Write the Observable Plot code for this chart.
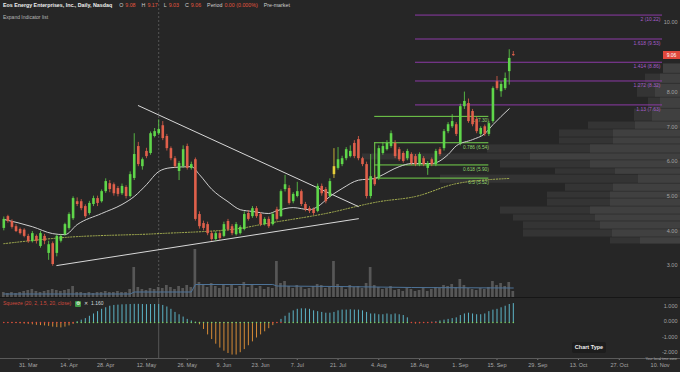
<!DOCTYPE html>
<html>
<head>
<meta charset="utf-8">
<script src="https://cdn.jsdelivr.net/npm/d3@7"></script>
<script src="https://cdn.jsdelivr.net/npm/@observablehq/plot@0.6"></script>
<style>
html,body{margin:0;padding:0;background:#262626;}
#wrap{position:relative;width:680px;height:372px;overflow:hidden;background:#262626;font-family:"Liberation Sans",Arial,sans-serif;}
.layer{position:absolute;left:0;}
.layer svg{display:block;}
#hdr{position:absolute;left:3px;top:2px;font-size:5.3px;white-space:nowrap;color:#d8d8d8;line-height:7px;}
#hdr b{color:#f0f0f0;margin-right:7px;}
#hdr .k{color:#cfcfcf;margin-right:2px;}
#hdr .v{color:#e0553f;margin-right:6px;}
#expand{position:absolute;left:3px;top:14px;font-size:5px;color:#b8b8b8;}
#sep{position:absolute;left:0;top:297px;width:680px;height:1px;background:#161616;}
#xline{position:absolute;left:0;top:358px;width:680px;height:1px;background:#5a5a5a;}
#sqz{position:absolute;left:3px;top:300px;font-size:5px;white-space:nowrap;line-height:7px;}
#sqz .t{color:#cf4a3e;}
#sqz .g{display:inline-block;width:6px;height:6px;background:#3f9b45;border-radius:1px;color:#fff;font-size:4.5px;text-align:center;line-height:6px;margin-left:4px;vertical-align:middle;}
#sqz .x{color:#ddd;margin-left:3px;}
#sqz .n{color:#cfd8dc;margin-left:3px;}
#pbox{position:absolute;left:663px;width:17px;height:8px;background:#e0483c;color:#fff;font-size:5px;line-height:8px;text-align:center;}
#ctype{position:absolute;left:572px;top:342px;width:34px;height:11px;background:#1d1d1d;color:#eee;font-size:5.5px;font-weight:bold;line-height:11px;text-align:center;border-radius:2px;}
#tz{position:absolute;right:3px;top:356.5px;font-size:3.5px;line-height:4px;color:#a8a8a8;}
</style>
</head>
<body>
<div id="wrap">
  <div id="profile" class="layer" style="top:0"></div>
  <div id="vol" class="layer" style="top:0"></div>
  <div id="main" class="layer" style="top:0"></div>
  <div id="sep"></div>
  <div id="osc" class="layer" style="top:298px"></div>
  <div id="xline"></div>
  <div id="hdr"></div>
  <div id="expand">Expand Indicator list</div>
  <div id="sqz"><span class="t">Squeeze (20, 2, 1.5, 20, close)</span><span class="g">&#9881;</span><span class="x">&#10005;</span><span class="n" id="sqzv"></span></div>
  <div id="pbox"></div>
  <div id="ctype">Chart Type</div>
  <div id="tz">Your local time zone</div>
</div>
<script>
// ---------------- DATA ----------------
const title = "Eos Energy Enterprises, Inc., Daily, Nasdaq";
const startDate = "2025-03-21";
const holidays = ["2025-04-18","2025-05-26","2025-06-19","2025-07-04","2025-09-01"];
const tickDates = ["2025-03-31","2025-04-14","2025-04-28","2025-05-12","2025-05-26","2025-06-09","2025-06-23","2025-07-07","2025-07-21","2025-08-04","2025-08-18","2025-09-01","2025-09-15","2025-09-29","2025-10-13","2025-10-27","2025-11-10"];
const priceTicks = [3,4,5,6,7,8,10];
const oscTicks = [1,0,-1,-2];

const open  = [4.07,4.41,4.27,4.12,4.04,4.02,3.84,3.69,3.84,3.55,3.84,3.35,3.63,3.35,3.70,3.89,4.07,4.35,4.84,4.84,4.70,4.50,4.76,4.93,4.84,5.13,5.36,5.33,5.22,5.07,5.25,4.99,5.51,6.43,5.85,6.29,6.23,6.72,6.80,7.03,6.72,6.37,6.08,5.71,5.85,6.43,5.80,6.05,4.47,4.21,4.18,3.92,3.75,3.92,3.84,4.27,4.12,3.89,3.92,4.04,4.50,4.41,4.64,4.47,4.18,4.33,4.18,4.61,4.41,5.19,5.22,4.84,4.99,5.13,4.76,4.64,4.61,4.56,5.28,5.19,4.99,5.62,5.80,5.91,6.08,6.14,6.52,6.63,6.08,5.91,4.99,5.51,5.51,6.23,6.34,6.43,6.52,6.34,6.23,6.08,6.20,6.14,5.91,6.08,5.80,6.05,5.91,6.34,6.37,6.86,7.00,7.06,6.52,7.58,7.67,7.44,7.21,6.78,7.00,6.78,7.15,8.30,8.01,8.10,8.59,9.08];
const high  = [4.40,4.45,4.32,4.18,4.08,4.06,3.90,3.98,3.88,3.98,3.90,3.70,3.68,3.88,3.90,4.22,4.52,4.98,4.95,4.90,4.75,4.85,5.00,5.00,5.18,5.50,5.45,5.38,5.28,5.35,5.30,5.70,6.80,6.55,6.10,6.38,6.85,6.95,7.20,7.15,6.78,6.42,6.14,6.00,6.45,6.50,5.98,6.10,4.55,4.28,4.25,3.98,3.98,3.98,4.25,4.33,4.18,4.24,4.15,4.55,4.58,4.70,4.70,4.52,4.38,4.40,4.52,4.68,5.18,5.60,5.30,5.10,5.40,5.18,4.82,4.70,4.66,5.35,5.35,5.25,5.50,6.37,6.40,6.15,6.40,6.45,6.60,6.72,6.12,5.98,6.20,5.60,6.45,6.55,6.60,6.88,6.60,6.40,6.28,6.35,6.25,6.20,6.25,6.14,6.00,6.10,6.35,6.40,6.92,7.12,7.35,7.12,7.65,8.00,7.80,7.50,7.28,7.00,7.05,7.15,8.15,8.45,8.30,8.55,9.22,9.17];
const low   = [4.00,4.22,4.05,3.95,3.88,3.80,3.64,3.65,3.62,3.50,3.60,3.15,2.98,3.25,3.65,3.85,4.02,4.30,4.70,4.58,4.36,4.45,4.70,4.70,4.80,5.08,5.10,5.00,4.98,5.02,4.92,4.95,5.45,5.85,5.75,6.08,6.18,6.68,6.75,6.60,6.30,6.02,5.80,5.45,5.80,5.75,5.75,4.28,4.05,4.00,3.86,3.70,3.70,3.72,3.80,3.98,3.86,3.85,3.88,4.00,4.28,4.36,4.36,4.12,4.14,4.07,4.14,4.28,4.38,5.12,4.74,4.78,4.95,4.70,4.55,4.50,4.44,4.52,5.00,4.78,4.95,5.51,5.75,5.85,6.02,6.10,6.08,6.02,5.85,4.92,4.92,5.28,5.45,6.18,6.30,6.38,6.08,6.00,5.95,6.02,5.88,5.85,5.85,5.85,5.60,5.85,5.85,6.15,6.30,6.80,6.95,6.72,6.45,7.50,7.10,7.00,6.80,6.72,6.72,6.72,7.10,8.05,7.85,8.05,8.20,9.03];
const close = [4.33,4.27,4.10,3.98,3.92,3.84,3.69,3.92,3.70,3.92,3.70,3.60,3.03,3.84,3.84,4.18,4.47,4.93,4.76,4.64,4.41,4.79,4.93,4.79,5.13,5.42,5.19,5.07,5.05,5.28,4.99,5.62,6.20,5.91,6.05,6.14,6.80,6.86,6.92,6.66,6.37,6.08,5.85,5.94,6.34,5.80,5.91,4.33,4.12,4.07,3.92,3.75,3.92,3.78,4.18,4.04,3.92,4.18,4.10,4.47,4.33,4.64,4.41,4.18,4.33,4.12,4.47,4.33,5.13,5.33,4.79,5.05,5.13,4.76,4.61,4.56,4.50,5.28,5.07,4.84,5.42,5.85,6.05,6.08,6.34,6.29,6.14,6.08,5.91,4.99,5.56,5.33,6.37,6.43,6.52,6.80,6.14,6.05,6.00,6.29,5.94,5.91,6.20,5.91,5.94,5.91,6.29,6.20,6.86,7.06,7.15,6.78,7.58,7.73,7.15,7.06,6.86,6.95,6.78,7.09,8.10,8.10,8.22,8.39,8.97,9.06];
const evenBars = [81];
const volume = [5,4,5,4,5,6, 7,8,6,5,6, 7,8,7,6,7, 8,11, 5,5,4,5,4,5,5,6, 5,5,6,5,5,8, 30, 10,8,7,9,8, 10, 9,12,10,8,11,9,12,10, 48, 15,12,10,14,11,9, 12,10,13,9,11,15, 10,12,9,11,8,10,9, 36, 14,16,11,9,12,10,8,9,11,13,12,9,10, 36, 13,10,8,12,10,11,9,14, 30, 12,10,8,9,11,7,8,6,9, 8,6,7,9,6,8,10,9,12,11,13, 10, 18, 12,9,8,7,9,8,10, 16,12,14,11,15,6];
const volumeMA = [[0,3.5],[31,3.5],[32,5.5],[46,5.5],[47,13],[66,13],[67,11.5],[82,11],[100,10],[125,9.5]];
const squeeze = [-0.02,-0.03,-0.05,-0.06,-0.08,-0.10,-0.12,-0.15,-0.18,-0.20,-0.22,-0.25,-0.30,-0.33,-0.35,-0.30,-0.22,-0.12,
 0.05,0.15,0.25,0.40,0.55,0.70,0.85,0.95,1.05,1.10,
 1.12,1.14,1.15,1.16,1.17,1.17,1.16,1.15,1.16,1.16,1.16,
 1.10,1.00,0.85,0.65,0.50,0.35,0.20,0.10,0.02,
 -0.15,-0.45,-0.80,-1.10,-1.40,-1.65,-1.85,-2.00,-2.10,-2.10,-1.95,-1.75,-1.50,-1.25,-1.00,-0.80,-0.60,-0.40,-0.20,-0.05,
 0.20,0.40,0.60,0.75,0.85,0.88,0.88,0.85,0.75,0.70,0.65,0.60,0.60,0.65,0.75,0.80,0.80,0.82,0.80,0.80,0.75,0.65,0.55,0.55,0.50,0.50,0.55,0.50,0.55,0.50,0.45,0.30,
 -0.05,-0.10,-0.08,-0.05,-0.05,0.02,0.05,0.10,0.15,0.20,0.25,0.30,0.45,0.55,0.60,0.55,0.50,0.50,0.55,0.70,0.80,0.85,0.95,1.05,1.16,1.22];
const squeezeOn = [[0,17],[66,68],[100,106]];
const squeezeReadout = 1.160;
const ma20 = [[0,4.33],[7,4.12],[12,3.92],[15,3.89],[18,4.18],[24,4.50],[29,4.76],[32,4.99],[35,5.33],[38,5.71],[41,5.82],[46,5.85],[48,5.62],[51,5.20],[55,4.84],[58,4.61],[61,4.56],[65,4.50],[67,4.58],[71,4.67],[75,4.61],[77,4.70],[80,4.99],[83,5.22],[87,5.46],[91,5.51],[92,5.56],[97,5.85],[100,5.94],[105,5.94],[109,6.20],[111,6.45],[115,6.63],[118,6.80],[120,7.06],[124,7.52]];
const maLong = [[0,3.63],[15,3.81],[38,3.92],[58,4.07],[63,4.18],[79,4.50],[92,4.84],[101,4.99],[111,5.36],[124,5.51]];
const trendDown = [["2025-05-08",7.61],["2025-07-28",4.70]];
const trendUp = [["2025-04-09",3.00],["2025-07-28",4.35]];
const fibRetStart = "2025-08-01", fibRetEnd = "2025-09-11";
const fibRet = [{r:"1",v:7.30},{r:"0.786",v:6.54},{r:"0.618",v:5.90},{r:"0.5",v:5.52}];
const fibExtStart = "2025-08-15";
const fibExt = [{r:"2",v:10.22},{r:"1.618",v:9.53},{r:"1.414",v:8.86},{r:"1.272",v:8.32},{r:"1.13",v:7.63}];
const crossDate = "2025-05-15";
const profile = [
 {lo:8.53,hi:8.82,total:17,up:17},{lo:8.24,hi:8.53,total:35,up:20},{lo:7.84,hi:8.24,total:43,up:25},
 {lo:7.52,hi:7.84,total:32,up:20},{lo:7.15,hi:7.52,total:46,up:28},{lo:6.92,hi:7.15,total:92,up:45},
 {lo:6.69,hi:6.92,total:121,up:67},{lo:6.49,hi:6.69,total:121,up:67},{lo:6.23,hi:6.49,total:193,up:90},
 {lo:6.03,hi:6.23,total:318,up:150},{lo:5.80,hi:6.03,total:180,up:90},{lo:5.62,hi:5.80,total:125,up:65},
 {lo:5.36,hi:5.62,total:240,up:42},{lo:5.13,hi:5.36,total:115,up:67},{lo:4.93,hi:5.13,total:133,up:70},
 {lo:4.70,hi:4.93,total:133,up:70},{lo:4.47,hi:4.70,total:180,up:90},{lo:4.27,hi:4.47,total:167,up:85},
 {lo:4.04,hi:4.27,total:157,up:80},{lo:3.81,hi:4.04,total:157,up:68},{lo:3.61,hi:3.81,total:70,up:40}];

// ---------------- BUILD ----------------
const parse = d3.utcParse("%Y-%m-%d"), fmtISO = d3.utcFormat("%Y-%m-%d");
const hol = new Set(holidays);
const days = [];
for (let d = parse(startDate); d <= parse("2025-12-31"); d = d3.utcDay.offset(d, 1)) {
  const wd = d.getUTCDay();
  if (wd === 0 || wd === 6 || hol.has(fmtISO(d))) continue;
  days.push(d);
}
const bar = s => { const t = parse(s); return days.findIndex(d => d >= t); };
const evenSet = new Set(evenBars);
const candles = open.map((o, i) => ({i, o, h: high[i], l: low[i], c: close[i], v: volume[i],
  col: evenSet.has(i) ? "#e8cf3a" : (close[i] >= o ? "#5fd64a" : "#e0604b")}));
const last = candles[candles.length - 1];

const xDomain = [-0.81, 161.6];
const yDomain = [2.05, 10.64];
const W = 680, H = 298;
const base = {background: "transparent", fontFamily: "Liberation Sans, Arial, sans-serif", overflow: "visible"};

// volume profile (behind everything)
document.getElementById("profile").append(Plot.plot({
  width: W, height: H, margin: 0,
  x: {domain: [0, W], range: [W, 0], axis: null},
  y: {domain: yDomain, axis: null},
  style: base,
  marks: [
    Plot.rect(profile, {x1: 0, x2: "total", y1: "lo", y2: "hi", fill: "#343434", insetTop: 0.4, insetBottom: 0.4}),
    Plot.rect(profile, {x1: 0, x2: "up", y1: "lo", y2: "hi", fill: "#404040", insetTop: 0.4, insetBottom: 0.4})
  ]
}));

// volume bars
document.getElementById("vol").append(Plot.plot({
  width: W, height: H, marginLeft: 0, marginRight: 18, marginTop: 0, marginBottom: 1,
  x: {domain: xDomain, axis: null},
  y: {domain: [0, H - 1], axis: null},
  style: base,
  marks: [
    Plot.rect(candles, {x1: d => d.i - 0.33, x2: d => d.i + 0.33, y1: 0, y2: "v", fill: "#575757"}),
    Plot.line(volumeMA, {x: d => d[0], y: d => d[1], stroke: "#4e7398", strokeWidth: 1})
  ]
}));

// main price chart
const cross = bar(crossDate);
const fr0 = bar(fibRetStart), fr1 = bar(fibRetEnd), fe0 = bar(fibExtStart);
const mainChart = Plot.plot({
  width: W, height: H, marginLeft: 0, marginRight: 18, marginTop: 0, marginBottom: 0,
  x: {domain: xDomain, axis: null},
  y: {domain: yDomain, axis: null},
  style: base,
  marks: [
    Plot.axisY(priceTicks, {anchor: "right", tickSize: 0, tickPadding: 15, textAnchor: "end", tickFormat: d => d.toFixed(2), fill: "#a2a2a2", fontSize: 5.5, label: null}),
    Plot.ruleX([cross], {stroke: "#6a6a6a", strokeWidth: 0.7, strokeDasharray: "2,2"}),
    // fib extension (purple)
    Plot.ruleY(fibExt, {y: "v", x1: fe0, x2: xDomain[1], stroke: "#8c3aa6", strokeWidth: 1}),
    Plot.text(fibExt, {y: "v", x: xDomain[1], text: d => `${d.r} (${d.v.toFixed(2)})`, textAnchor: "end", dx: -2, dy: 4, fill: "#a55dc8", fontSize: 5}),
    // fib retracement (green)
    Plot.ruleY(fibRet, {y: "v", x1: fr0, x2: fr1, stroke: "#74d34c", strokeWidth: 1}),
    Plot.ruleX([fr0], {y1: fibRet[fibRet.length - 1].v, y2: fibRet[1].v, stroke: "#74d34c", strokeWidth: 1}),
    Plot.text(fibRet, {y: "v", x: fr1, text: d => `${d.r} (${d.v.toFixed(2)})`, textAnchor: "end", dy: 4.5, fill: "#8fd46a", fontSize: 4.8}),
    // moving averages
    Plot.line(maLong, {x: d => d[0], y: d => d[1], stroke: "#a9b452", strokeWidth: 1, strokeDasharray: "1.2,1.6", curve: "monotone-x"}),
    Plot.line(ma20, {x: d => d[0], y: d => d[1], stroke: "#cfcfcf", strokeWidth: 1, curve: "monotone-x"}),
    // trend lines
    Plot.line(trendDown, {x: d => bar(d[0]), y: d => d[1], stroke: "#d8d8d8", strokeWidth: 1}),
    Plot.line(trendUp, {x: d => bar(d[0]), y: d => d[1], stroke: "#d8d8d8", strokeWidth: 1}),
    // candles
    Plot.ruleX(candles, {x: "i", y1: "l", y2: "h", stroke: "col", strokeWidth: 0.8}),
    Plot.ruleX(candles, {x: "i", y1: "o", y2: d => Math.abs(d.c - d.o) < 0.03 ? d.o - 0.03 : d.c, stroke: "col", strokeWidth: 2.6})
  ]
});
document.getElementById("main").append(mainChart);

// last price box
const yLast = mainChart.scale("y").apply(last.c);
const pbox = document.getElementById("pbox");
pbox.style.top = (yLast - 4) + "px";
pbox.textContent = last.c.toFixed(2);

// oscillator + time axis
const onSet = new Set();
squeezeOn.forEach(([a, b]) => { for (let k = a; k <= b; k++) onSet.add(k); });
const sq = squeeze.map((v, i) => ({i, v, on: onSet.has(i)}));
const tickIdx = tickDates.map(bar);
const tickLab = new Map(tickDates.map((s, k) => [tickIdx[k], d3.utcFormat("%-d. %b")(parse(s))]));
document.getElementById("osc").append(Plot.plot({
  width: W, height: 74, marginLeft: 0, marginRight: 18, marginTop: 0, marginBottom: 14,
  x: {domain: xDomain},
  y: {domain: [-2.323, 1.548]},
  style: base,
  marks: [
    Plot.ruleX([cross], {stroke: "#6a6a6a", strokeWidth: 0.7}),
    Plot.ruleX(sq, {x: "i", y1: 0, y2: "v", stroke: d => d.v >= 0 ? "#5cb4c7" : "#d68b36", strokeWidth: 1}),
    Plot.dot(sq, {x: "i", y: 0, r: 0.8, fill: d => d.on ? "#d9483c" : "#7bcf6a", stroke: null}),
    Plot.axisY(oscTicks, {anchor: "right", tickSize: 0, tickPadding: 15, textAnchor: "end", tickFormat: d => d.toFixed(3), fill: "#a2a2a2", fontSize: 5.5, label: null, dy: -1}),
    Plot.axisX(tickIdx, {anchor: "bottom", tickSize: 2, tickPadding: 2.5, tickFormat: d => tickLab.get(d), fill: "#a8a8a8", stroke: "#777", fontSize: 5.5, label: null})
  ]
}));

// header
const hdr = document.getElementById("hdr");
const pct = 0;
hdr.innerHTML = `<b>${title}</b>` +
  `<span class="k">O</span><span class="v">${last.o.toFixed(2)}</span>` +
  `<span class="k">H</span><span class="v">${last.h.toFixed(2)}</span>` +
  `<span class="k">L</span><span class="v">${last.l.toFixed(2)}</span>` +
  `<span class="k">C</span><span class="v">${last.c.toFixed(2)}</span>` +
  `<span class="k">Period</span><span class="v">${pct.toFixed(2)} (${pct.toFixed(3)}%)</span>` +
  `<span class="k">Pre-market</span>`;
document.getElementById("sqzv").textContent = squeezeReadout.toFixed(3);
</script>
</body>
</html>
